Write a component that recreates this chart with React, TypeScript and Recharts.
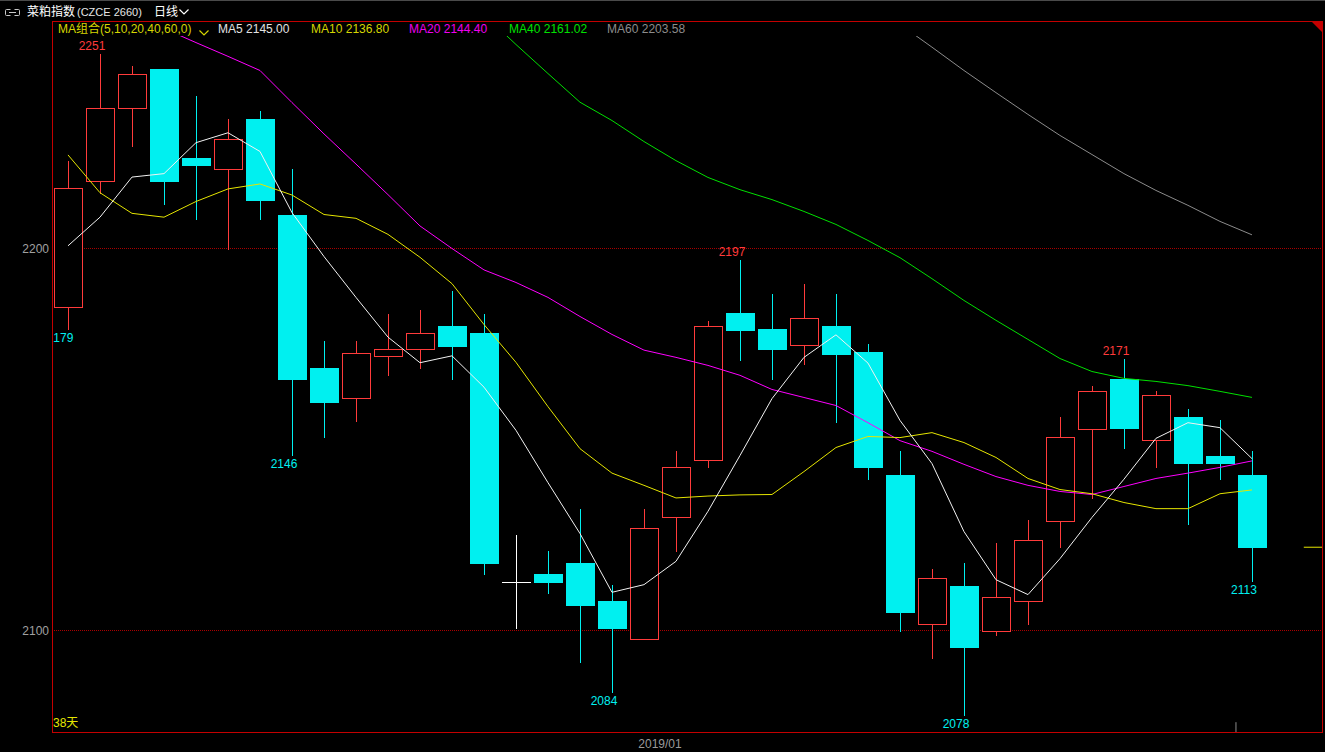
import React from 'react';
import { ComposedChart, Bar, Line, XAxis, YAxis, ReferenceLine, CartesianGrid } from 'recharts';

const W = 1325;
const H = 752;
const FONT = '"Liberation Sans", "Noto Sans CJK SC", Arial, sans-serif';

// OHLC per trading day (38 days)
const opens = [2184.7, 2217.7, 2236.7, 2246.9, 2223.8, 2220.9, 2234.0, 2208.9, 2168.8, 2160.9, 2171.9, 2173.7, 2179.8, 2178.0, 2112.7, 2114.8, 2117.7, 2107.8, 2097.8, 2129.8, 2144.7, 2183.0, 2178.8, 2174.7, 2179.8, 2172.8, 2140.8, 2101.7, 2111.7, 2099.9, 2107.8, 2128.7, 2152.8, 2165.9, 2149.9, 2156.0, 2145.8, 2140.8];
const highs = [2223.0, 2251.0, 2247.9, 2246.9, 2239.8, 2234.0, 2235.9, 2220.9, 2175.9, 2175.9, 2182.9, 2184.0, 2189.0, 2182.9, 2124.9, 2120.9, 2131.9, 2111.8, 2131.9, 2146.9, 2180.9, 2197.0, 2188.0, 2190.8, 2188.0, 2174.9, 2146.9, 2116.0, 2117.8, 2122.8, 2128.8, 2156.0, 2163.9, 2171.0, 2162.8, 2157.9, 2155.0, 2146.9];
const lows = [2179.0, 2214.6, 2226.8, 2211.6, 2207.7, 2199.8, 2207.7, 2146.0, 2150.6, 2154.8, 2166.8, 2168.7, 2165.9, 2114.7, 2100.6, 2109.8, 2091.7, 2084.0, 2097.8, 2120.8, 2142.7, 2170.8, 2165.8, 2169.7, 2154.7, 2139.6, 2099.8, 2092.8, 2078.0, 2098.7, 2101.6, 2121.8, 2134.7, 2147.9, 2142.7, 2127.9, 2139.6, 2113.0];
const closes = [2215.9, 2236.8, 2245.7, 2217.6, 2221.8, 2228.7, 2212.6, 2165.9, 2159.8, 2172.7, 2173.7, 2177.9, 2174.6, 2117.6, 2112.7, 2112.6, 2106.7, 2100.6, 2126.9, 2142.9, 2179.8, 2178.6, 2173.6, 2181.9, 2172.5, 2142.7, 2104.8, 2113.8, 2095.6, 2108.8, 2123.7, 2150.7, 2162.7, 2152.9, 2161.7, 2143.8, 2143.8, 2121.8];

// moving averages
const ma5 = [2200.7, 2208.2, 2218.7, 2219.6, 2227.7, 2230.3, 2225.4, 2209.4, 2197.9, 2187.2, 2176.8, 2170.1, 2171.9, 2163.7, 2152.4, 2138.7, 2125.4, 2110.0, 2112.0, 2118.1, 2131.2, 2145.8, 2160.7, 2171.5, 2177.4, 2170.0, 2155.0, 2143.7, 2125.9, 2113.3, 2109.4, 2118.8, 2129.6, 2139.6, 2150.3, 2154.4, 2153.1, 2145.0];
const ma10 = [2224.5, 2214.6, 2209.2, 2208.2, 2212.3, 2215.6, 2216.9, 2214.0, 2208.9, 2207.9, 2203.7, 2197.7, 2190.8, 2180.1, 2170.2, 2158.6, 2147.6, 2141.2, 2138.0, 2134.7, 2135.2, 2135.5, 2135.6, 2141.6, 2147.9, 2150.8, 2150.5, 2151.8, 2149.2, 2145.3, 2139.8, 2136.9, 2135.8, 2133.5, 2131.9, 2131.9, 2135.8, 2136.8];
const ma20 = [null, null, null, 2257.6, 2253.9, 2250.3, 2246.6, 2238.2, 2230.0, 2222.1, 2214.1, 2205.9, 2200.0, 2194.4, 2191.1, 2187.2, 2182.2, 2177.5, 2173.4, 2171.5, 2169.4, 2166.8, 2163.1, 2161.0, 2158.9, 2154.4, 2149.7, 2146.9, 2143.5, 2140.3, 2138.0, 2136.4, 2135.6, 2137.7, 2139.8, 2141.2, 2142.7, 2144.4];
const ma40 = [null, null, null, null, null, null, null, null, null, null, null, null, null, 2261.3, 2253.4, 2245.8, 2238.3, 2233.5, 2228.0, 2223.0, 2218.6, 2215.4, 2212.8, 2209.7, 2206.3, 2202.1, 2197.6, 2192.1, 2186.4, 2181.2, 2176.2, 2171.2, 2167.8, 2166.0, 2165.2, 2164.1, 2162.6, 2161.02];
const ma60 = [null, null, null, null, null, null, null, null, null, null, null, null, null, null, null, null, null, null, null, null, null, null, null, null, null, null, 2258.7, 2252.7, 2246.6, 2240.8, 2235.1, 2229.6, 2224.6, 2219.6, 2215.2, 2211.3, 2207.1, 2203.58];

// extreme-value markers: day index -> high / low
const markers: Record<number, 'H' | 'L'> = { 0: 'L', 1: 'H', 7: 'L', 17: 'L', 21: 'H', 28: 'L', 33: 'H', 37: 'L' };

const yTicks = [2100, 2200];
const dateTicks = [18.5];
const dateLabels = ['2019/01'];
const rollMark = 36.5;

const maLegend = [
  { name: 'MA5', value: '2145.00', color: '#e2e2e2', left: 218 },
  { name: 'MA10', value: '2136.80', color: '#d6d600', left: 311 },
  { name: 'MA20', value: '2144.40', color: '#ee00ee', left: 409 },
  { name: 'MA40', value: '2161.02', color: '#00e000', left: 509 },
  { name: 'MA60', value: '2203.58', color: '#8c8c8c', left: 607 },
];

const RED = '#ff3b3b';
const CYAN = '#00f0f0';

const rows = opens.map((o, i) => ({
  i,
  o,
  h: highs[i],
  l: lows[i],
  c: closes[i],
  ma5: ma5[i],
  ma10: ma10[i],
  ma20: ma20[i],
  ma40: ma40[i],
  ma60: ma60[i],
  mark: markers[i],
}));

const Candle = (props: any) => {
  const { x, y, width, height, payload } = props;
  if (!payload) return null;
  const { o, h, l, c, mark } = payload;
  const cx = Math.round(x + width / 2);
  const k = (h - l) > 0 ? height / (h - l) : 0;
  const py = (v: number) => y + (h - v) * k;
  const yh = Math.round(py(h));
  const yl = Math.round(py(l));
  const yo = Math.round(py(o));
  const yc = Math.round(py(c));
  const top = Math.min(yo, yc);
  const bot = Math.max(yo, yc);
  const wx = cx + 0.5;
  const els: any[] = [];
  if (o === c) {
    els.push(<line key="w" x1={wx} x2={wx} y1={yh} y2={yl + 1} stroke="#ffffff" strokeWidth={1} />);
    els.push(<line key="b" x1={cx - 14} x2={cx + 15} y1={yo + 0.5} y2={yo + 0.5} stroke="#ffffff" strokeWidth={1} />);
  } else if (c > o) {
    els.push(<line key="w1" x1={wx} x2={wx} y1={yh} y2={top} stroke={RED} strokeWidth={1} />);
    els.push(<line key="w2" x1={wx} x2={wx} y1={bot} y2={yl + 1} stroke={RED} strokeWidth={1} />);
    els.push(<rect key="b" x={cx - 14 + 0.5} y={top + 0.5} width={28} height={Math.max(bot - top, 1)} fill="#000" stroke={RED} strokeWidth={1} />);
  } else {
    els.push(<line key="w" x1={wx} x2={wx} y1={yh} y2={yl + 1} stroke={CYAN} strokeWidth={1} />);
    els.push(<rect key="b" x={cx - 14} y={top} width={29} height={Math.max(bot - top + 1, 1)} fill={CYAN} />);
  }
  if (mark === 'H') {
    els.push(<text key="t" x={cx - 8} y={yh - 4} textAnchor="middle" fontSize={12} fill={RED} fontFamily={FONT}>{String(Math.round(h))}</text>);
  } else if (mark === 'L') {
    els.push(<text key="t" x={cx - 8} y={yl + 13} textAnchor="middle" fontSize={12} fill={CYAN} fontFamily={FONT}>{String(Math.round(l))}</text>);
  }
  return <g>{els}</g>;
};

const Chevron = ({ left, top, color }: { left: number; top: number; color: string }) => (
  <svg style={{ position: 'absolute', left, top }} width={10} height={6}>
    <polyline points="0.5,0.5 5,5 9.5,0.5" fill="none" stroke={color} strokeWidth={1.2} />
  </svg>
);

export default function App() {
  return (
    <div style={{ position: 'absolute', left: 0, top: 0, width: W, height: H, background: '#000', overflow: 'hidden', fontFamily: FONT }}>
      <div style={{ position: 'absolute', left: 0, top: 0, width: W, height: 1, background: '#4a4a4a' }} />
      {/* header */}
      <svg style={{ position: 'absolute', left: 4, top: 8 }} width={18} height={9}>
        <path d="M6.5,1.5 H2.5 Q1.5,1.5 1.5,2.5 V6.5 Q1.5,7.5 2.5,7.5 H6.5" fill="none" stroke="#c8c8c8" strokeWidth={1} />
        <path d="M10.5,1.5 H14.5 Q15.5,1.5 15.5,2.5 V6.5 Q15.5,7.5 14.5,7.5 H10.5" fill="none" stroke="#c8c8c8" strokeWidth={1} />
        <line x1={5} x2={12} y1={4.5} y2={4.5} stroke="#c8c8c8" strokeWidth={1} />
      </svg>
      <span style={{ position: 'absolute', left: 27, top: 5, fontSize: 12, lineHeight: '14px', color: '#ffffff', whiteSpace: 'nowrap' }}>菜粕指数</span>
      <span style={{ position: 'absolute', left: 77, top: 5, fontSize: 11, lineHeight: '14px', color: '#e6e6e6', whiteSpace: 'nowrap' }}>(CZCE 2660)</span>
      <span style={{ position: 'absolute', left: 154, top: 5, fontSize: 12, lineHeight: '14px', color: '#ffffff', whiteSpace: 'nowrap' }}>日线</span>
      <Chevron left={179} top={9} color="#ffffff" />

      <div style={{ position: 'absolute', left: 0, top: 0 }}>
        <ComposedChart width={W} height={H} data={rows} margin={{ top: 36, right: 2, bottom: 0, left: 0 }}>
          <CartesianGrid vertical={false} horizontal={true} horizontalValues={yTicks} stroke="#a80000" strokeDasharray="1 1" />
          <XAxis
            type="number"
            dataKey="i"
            domain={[-0.5, 39.22]}
            allowDataOverflow
            ticks={dateTicks}
            tickFormatter={(v: number) => dateLabels[dateTicks.indexOf(v)] ?? ''}
            axisLine={false}
            tickLine={false}
            tickSize={0}
            tickMargin={6}
            height={19}
            tick={{ fill: '#9a9a9a', fontSize: 12 }}
          />
          <YAxis
            width={52}
            domain={[2073.168, 2255.628]}
            allowDataOverflow
            ticks={yTicks}
            axisLine={false}
            tickLine={false}
            tickSize={0}
            tickMargin={3}
            tick={{ fill: '#a0a0a0', fontSize: 12 }}
          />
          <Bar dataKey={(d: any) => [d.l, d.h]} shape={Candle} barSize={28} isAnimationActive={false} />
          <Line type="linear" dataKey="ma60" stroke="#8c8c8c" strokeWidth={1} dot={false} activeDot={false} isAnimationActive={false} />
          <Line type="linear" dataKey="ma40" stroke="#00e000" strokeWidth={1} dot={false} activeDot={false} isAnimationActive={false} />
          <Line type="linear" dataKey="ma20" stroke="#ff00ff" strokeWidth={1} dot={false} activeDot={false} isAnimationActive={false} />
          <Line type="linear" dataKey="ma10" stroke="#e6e600" strokeWidth={1} dot={false} activeDot={false} isAnimationActive={false} />
          <Line type="linear" dataKey="ma5" stroke="#f2f2f2" strokeWidth={1} dot={false} activeDot={false} isAnimationActive={false} />
          <ReferenceLine
            segment={[{ x: 38.62, y: closes[closes.length - 1] }, { x: 39.22, y: closes[closes.length - 1] }]}
            stroke="#e6e600"
            strokeWidth={1}
          />
          <ReferenceLine
            segment={[{ x: rollMark, y: 2073.168 }, { x: rollMark, y: 2076.0 }]}
            stroke="#8a8a8a"
            strokeWidth={1}
          />
        </ComposedChart>
      </div>

      {/* frame */}
      <div style={{ position: 'absolute', left: 52, top: 21, width: 1271, height: 712, border: '1px solid #c40000', boxSizing: 'border-box', pointerEvents: 'none' }} />
      <svg style={{ position: 'absolute', left: 1312, top: 22 }} width={10} height={10}>
        <polygon points="0,0 10,0 10,10" fill="#c40000" />
      </svg>

      {/* MA legend row */}
      <span style={{ position: 'absolute', left: 58, top: 22, fontSize: 12, lineHeight: '14px', color: '#d6d600', whiteSpace: 'nowrap' }}>MA组合(5,10,20,40,60,0)</span>
      <Chevron left={199} top={30} color="#d6d600" />
      {maLegend.map((m) => (
        <span key={m.name} style={{ position: 'absolute', left: m.left, top: 22, fontSize: 12, lineHeight: '14px', color: m.color, whiteSpace: 'nowrap' }}>
          {m.name} {m.value}
        </span>
      ))}

      <span style={{ position: 'absolute', left: 53, top: 716, fontSize: 12, lineHeight: '14px', color: '#e6e600', whiteSpace: 'nowrap' }}>38天</span>
    </div>
  );
}
